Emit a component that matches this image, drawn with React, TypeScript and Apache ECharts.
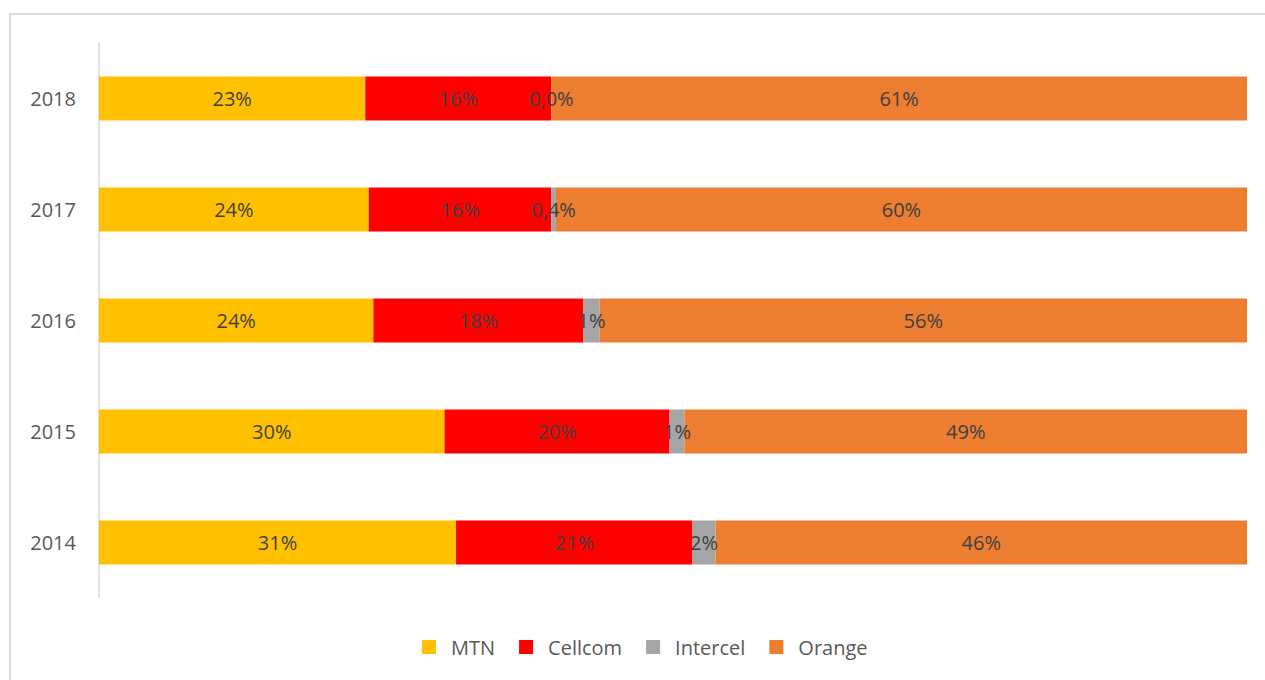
import React, { useEffect, useRef } from "react";
import * as echarts from "echarts";

const years = ["2014", "2015", "2016", "2017", "2018"];
const mtn = [31.1, 30.1, 23.9, 23.5, 23.2];
const cellcom = [20.6, 19.6, 18.3, 15.9, 16.2];
const intercel = [2.0, 1.3, 1.4, 0.4, 0.0];
const orange = [46.3, 49.0, 56.4, 60.2, 60.6];

const seriesNames = ["MTN", "Cellcom", "Intercel", "Orange"];
const seriesColors = ["#FFC000", "#FF0000", "#A5A5A5", "#ED7D31"];

const FONT = "'Open Sans', 'Noto Sans', sans-serif";

function fmt(v: number, decimals: boolean) {
  if (decimals && v < 1) return v.toFixed(1).replace(".", ",") + "%";
  return Math.round(v) + "%";
}

export default function App() {
  const ref = useRef<HTMLDivElement>(null);
  useEffect(() => {
    document.body.style.overflow = "hidden";
    const chart = echarts.init(ref.current!, null, { renderer: "svg" });
    const values = [mtn, cellcom, intercel, orange];
    chart.setOption({
      animation: false,
      textStyle: { fontFamily: FONT },
      grid: { left: 99, right: 18, top: 43, bottom: 82, containLabel: false },
      xAxis: {
        type: "value",
        min: 0,
        max: 100,
        show: false,
      },
      yAxis: {
        type: "category",
        data: years,
        axisLine: { show: true, lineStyle: { color: "#D9D9D9", width: 1.5 } },
        axisTick: { show: false },
        axisLabel: { color: "#595959", fontSize: 20, fontFamily: FONT, margin: 23 },
        splitLine: { show: false },
      },
      legend: {
        data: seriesNames,
        top: 632,
        left: 417,
        itemWidth: 14,
        itemHeight: 14,
        itemGap: 24,
        icon: "rect",
        textStyle: { color: "#595959", fontSize: 20, fontFamily: FONT, padding: [0, 0, 0, 10] },
      },
      graphic: [
        {
          type: "rect",
          shape: { x: 10, y: 14, width: 1400, height: 800 },
          style: { fill: "none", stroke: "#D9D9D9", lineWidth: 2 },
          silent: true,
          z: -10,
        },
      ],
      series: seriesNames.map((name, i) => ({
        name,
        type: "bar",
        stack: "total",
        barWidth: 44,
        data: values[i],
        itemStyle: { color: seriesColors[i] },
        label: {
          show: true,
          position: "inside",
          color: "#404040",
          fontSize: 20,
          fontFamily: FONT,
          formatter: (p: any) => fmt(p.value, i === 2),
        },
      })),
    });
    return () => chart.dispose();
  }, []);
  return (
    <div
      ref={ref}
      style={{ position: "absolute", left: 0, top: 0, width: 1265, height: 680 }}
    />
  );
}
